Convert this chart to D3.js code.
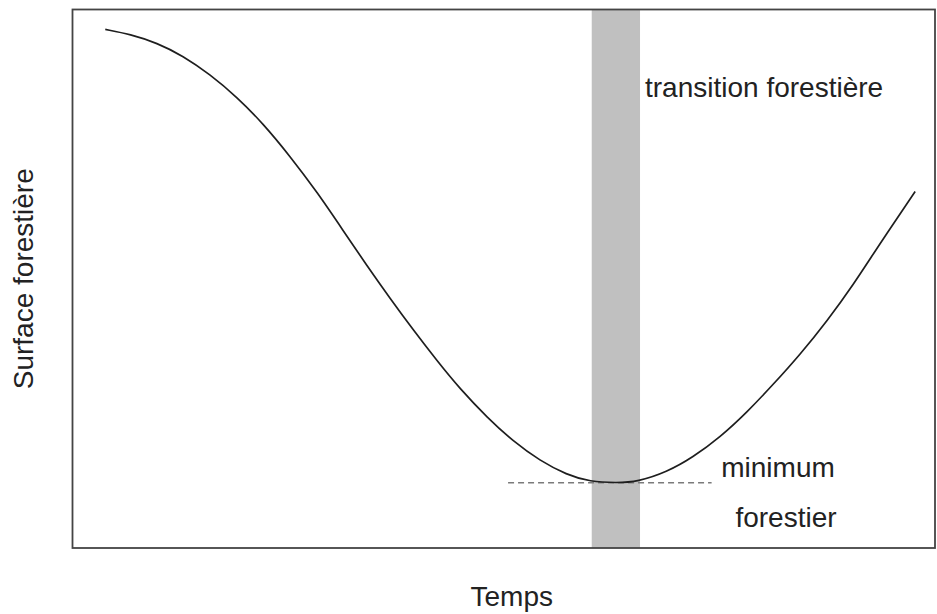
<!DOCTYPE html>
<meta charset="utf-8">
<script src="https://d3js.org/d3.v7.min.js"></script>
<style>
    body { margin: 0; background: #fff; }
    text { font-family: "Liberation Sans", Arial, sans-serif; fill: #222; }
</style>
<svg width=937 height=614></svg>
<script>
    // time (0-100) and forest surface (0-100)
    var temps = [3.8, 6.7, 9.8, 12.8, 15.9, 19.1, 22.1, 25.2, 28.4, 31.4, 34.1, 36.8, 39.5, 42.3, 44.9,
                 48.1, 51.1, 54.2, 57.3, 60.0, 63.1, 65.5, 68.9, 71.9, 75.1, 78.2, 81.2, 84.4, 87.5, 90.5, 93.6, 97.7];
    var surface = [96.3, 95.4, 93.8, 91.4, 88.0, 83.7, 78.8, 72.8, 66.0, 58.9, 52.5, 46.4, 40.5, 34.7, 29.6,
                   24.2, 19.8, 16.2, 13.6, 12.3, 12.1, 12.3, 14.1, 16.8, 20.6, 25.2, 30.3, 36.0, 42.2, 48.8, 56.5, 66.2];
    var transition = [60.2, 65.8];
    var minimum = 12.1;
    var minimumSpan = [50.5, 74.1];
    var labels = { x: "Temps", y: "Surface forestière", band: "transition forestière",
                   minimum: ["minimum", "forestier"] };

    var m = { left: 72.5, right: 935, top: 9.5, bottom: 548 };
    var svg = d3.select("svg");

    var x = d3.scaleLinear().domain([0, 100]).range([m.left, m.right]);
    var y = d3.scaleLinear().domain([0, 100]).range([m.bottom, m.top]);

    // grey band
    svg.append("rect")
        .attr("x", x(transition[0]))
        .attr("y", m.top)
        .attr("width", x(transition[1]) - x(transition[0]))
        .attr("height", m.bottom - m.top)
        .attr("fill", "#c0c0c0");

    // dashed minimum line
    svg.append("line")
        .attr("x1", x(minimumSpan[0]))
        .attr("x2", x(minimumSpan[1]))
        .attr("y1", y(minimum))
        .attr("y2", y(minimum))
        .attr("stroke", "#7a7a7a")
        .attr("stroke-width", 1.5)
        .attr("stroke-dasharray", "6,4");

    var pts = temps.map(function(t, i) { return [t, surface[i]]; });
    var line = d3.line()
        .x(function(d) { return x(d[0]); })
        .y(function(d) { return y(d[1]); })
        .curve(d3.curveBasis);

    svg.append("path")
        .datum(pts)
        .attr("d", line)
        .attr("fill", "none")
        .attr("stroke", "#1e1e1e")
        .attr("stroke-width", 1.7);

    // frame
    svg.append("rect")
        .attr("x", m.left)
        .attr("y", m.top)
        .attr("width", m.right - m.left)
        .attr("height", m.bottom - m.top)
        .attr("fill", "none")
        .attr("stroke", "#444")
        .attr("stroke-width", 1.8);

    svg.append("text")
        .attr("x", x(transition[1]) + 5)
        .attr("y", 97)
        .style("font-size", "28px")
        .text(labels.band);

    svg.append("text")
        .attr("x", 778)
        .attr("y", 477)
        .style("font-size", "28px")
        .style("text-anchor", "middle")
        .text(labels.minimum[0]);

    svg.append("text")
        .attr("x", 786)
        .attr("y", 527)
        .style("font-size", "28px")
        .style("text-anchor", "middle")
        .text(labels.minimum[1]);

    svg.append("text")
        .attr("x", (m.left + m.right) / 2 + 8)
        .attr("y", 606)
        .style("font-size", "28px")
        .style("text-anchor", "middle")
        .text(labels.x);

    svg.append("text")
        .attr("transform", "translate(33," + ((m.top + m.bottom) / 2) + ") rotate(-90)")
        .style("font-size", "28px")
        .style("text-anchor", "middle")
        .text(labels.y);
</script>
